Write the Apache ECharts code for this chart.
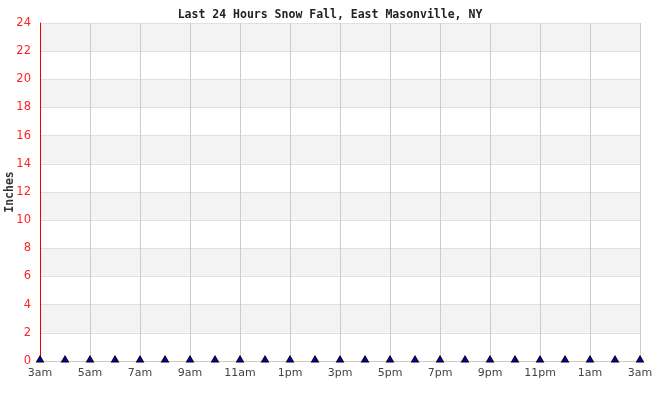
<!DOCTYPE html>
<html><head><meta charset="utf-8">
<script src="https://cdn.jsdelivr.net/npm/echarts@6/dist/echarts.min.js"></script>
<style>html,body{margin:0;padding:0;background:#fff}#c{width:660px;height:400px}</style>
</head><body><div id="c"></div>
<script>
var hours = ['3am','4am','5am','6am','7am','8am','9am','10am','11am','12pm','1pm','2pm','3pm','4pm','5pm','6pm','7pm','8pm','9pm','10pm','11pm','12am','1am','2am','3am'];
var snow = [0,0,0,0,0,0,0,0,0,0,0,0,0,0,0,0,0,0,0,0,0,0,0,0,0];
var yTicks = [0,2,4,6,8,10,12,14,16,18,20,22,24];

var chart = echarts.init(document.getElementById('c'));
chart.setOption({
  animation: false,
  title: {
    text: 'Last 24 Hours Snow Fall, East Masonville, NY',
    left: 'center', top: 4,
    textStyle: {fontFamily: 'DejaVu Sans Mono', fontWeight: 'bold', fontSize: 11.5, color: '#222'}
  },
  grid: {left: 40, right: 20, top: 23, bottom: 39, containLabel: false, outerBoundsMode: 'none'},
  xAxis: {
    type: 'category',
    data: hours,
    boundaryGap: false,
    axisLine: {show: true, lineStyle: {color: '#ccc'}},
    axisTick: {show: false},
    axisLabel: {interval: 1, color: '#444', fontFamily: 'DejaVu Sans', fontSize: 11, margin: 7},
    splitLine: {show: true, interval: 1, lineStyle: {color: '#ccc'}}
  },
  yAxis: {
    type: 'value',
    min: yTicks[0], max: yTicks[yTicks.length - 1], interval: 2,
    name: 'Inches',
    nameLocation: 'middle',
    nameGap: 24,
    nameMoveOverlap: false,
    nameTextStyle: {fontFamily: 'DejaVu Sans Mono', fontWeight: 'bold', fontSize: 11.5, color: '#333'},
    axisLine: {show: true, lineStyle: {color: '#e00', width: 1}},
    axisTick: {show: false},
    axisLabel: {color: '#f22', fontFamily: 'DejaVu Sans', fontSize: 11.5, margin: 9},
    splitLine: {show: true, lineStyle: {color: '#e0e0e0'}},
    splitArea: {show: true, areaStyle: {color: ['#ffffff', '#f3f3f3']}}
  },
  series: [{
    type: 'line',
    data: snow,
    symbol: 'triangle',
    symbolSize: [7, 6],
    symbolOffset: [0, -2],
    showAllSymbol: true,
    lineStyle: {width: 0, opacity: 0},
    itemStyle: {color: '#0000cc', borderColor: '#000', borderWidth: 1},
    z: 5
  }]
});
</script></body></html>
